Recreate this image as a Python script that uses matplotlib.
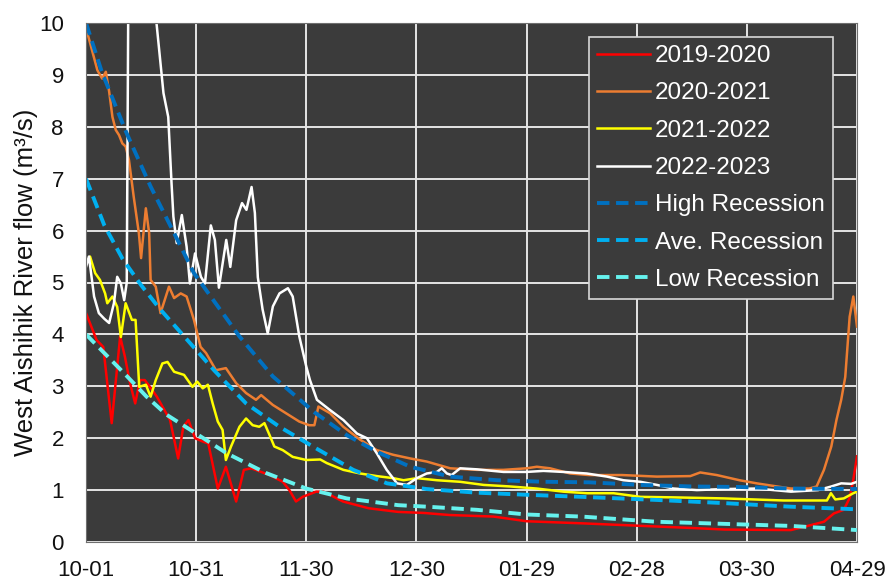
import matplotlib
matplotlib.use("Agg")
import matplotlib.pyplot as plt

plt.rcParams['font.family'] = ['Liberation Sans', 'DejaVu Sans']

# Day offsets from 1 October and flows (m3/s) for each season
tick_days = [0, 30, 60, 90, 120, 150, 180, 210]
tick_labels = ["10-01", "10-31", "11-30", "12-30", "01-29", "02-28", "03-30", "04-29"]

days_1920 = [0, 2.9, 4.7, 7, 9.3, 10.6, 12, 13.4, 14.7, 16, 17.4, 19.3, 22.9, 25.1, 26.5,
             27.9, 29.7, 32, 33.3, 35.9, 38.1, 40.9, 43, 45, 50, 53.6, 55.4, 57.2, 59,
             62.7, 64.7, 70, 77, 85, 92, 99, 111, 120, 135, 145, 155, 165, 174, 192,
             196, 201, 203.7, 206.4, 208, 209, 210]
flow_1920 = [4.41, 3.89, 3.76, 2.29, 3.96, 3.57, 3.06, 2.67, 3.12, 3.12, 2.99, 2.80, 2.35,
             1.61, 2.22, 2.35, 2.00, 1.93, 1.90, 1.03, 1.45, 0.78, 1.39, 1.42, 1.29, 1.16,
             1.00, 0.78, 0.87, 0.97, 0.97, 0.78, 0.65, 0.58, 0.56, 0.52, 0.49, 0.40, 0.36,
             0.33, 0.30, 0.27, 0.24, 0.23, 0.30, 0.39, 0.55, 0.62, 0.85, 1.20, 1.65]

days_2021 = [0, 0.4, 3.1, 4.4, 5.4, 6.3, 7.2, 8.1, 9, 9.9, 10.8, 11.7, 13, 14.4, 15, 16.3,
             17.2, 17.6, 19, 20.3, 22.6, 24, 25.8, 27.4, 29.4, 31.2, 32.7, 35.4, 38.1,
             40.9, 43.6, 46.3, 47.7, 50.9, 54.5, 58.1, 60.8, 62.2, 63.3, 66.5, 70.1, 74.7,
             79.2, 83.7, 88.3, 92.8, 99.2, 106.5, 113.7, 120, 122.8, 126.4, 131.9, 137,
             146, 155.5, 164.6, 167.3, 171.8, 178, 182.7, 188.2, 192, 197, 199, 201, 203,
             204.4, 205.7, 206.8, 208, 209, 210]
flow_2021 = [10.0, 9.8, 9.09, 8.93, 9.06, 8.68, 8.19, 7.94, 7.84, 7.68, 7.62, 7.36, 6.65,
             5.95, 5.47, 6.43, 5.95, 5.05, 4.92, 4.41, 4.92, 4.70, 4.79, 4.73, 4.28, 3.76,
             3.64, 3.31, 3.35, 3.06, 2.87, 2.74, 2.83, 2.64, 2.48, 2.32, 2.25, 2.25, 2.61,
             2.48, 2.22, 1.97, 1.77, 1.68, 1.61, 1.55, 1.42, 1.39, 1.39, 1.42, 1.45, 1.42,
             1.32, 1.29, 1.29, 1.26, 1.27, 1.34, 1.29, 1.19, 1.13, 1.07, 1.03, 1.03, 1.07,
             1.39, 1.84, 2.35, 2.74, 3.18, 4.34, 4.73, 4.15]

days_2122 = [0, 1.1, 2.5, 3.8, 5.2, 5.8, 7.2, 8.5, 9.5, 10.8, 12.5, 13.5, 14.5, 16.3, 17.6,
             19, 20.8, 22.2, 24, 26.7, 29, 30.3, 31.8, 33.2, 34.5, 35.9, 37.2, 38.1, 39.5,
             41.8, 43.6, 45.4, 47.2, 48.6, 50, 51.3, 53.6, 56.3, 60, 63.8, 65.6, 70.1,
             74.7, 79.2, 83.7, 86.5, 90.1, 95.6, 101.9, 108.3, 115.5, 122.8, 130, 136.4,
             143.7, 151, 160, 173.7, 190, 201.8, 202.9, 204.1, 206.4, 209, 210]
flow_2122 = [5.37, 5.50, 5.18, 5.05, 4.79, 4.60, 4.73, 4.53, 3.95, 4.60, 4.28, 4.28, 2.99,
             3.03, 2.80, 3.12, 3.44, 3.47, 3.28, 3.22, 2.99, 3.09, 2.96, 3.03, 2.67, 2.32,
             2.16, 1.58, 1.84, 2.22, 2.38, 2.25, 2.22, 2.29, 2.06, 1.84, 1.77, 1.64, 1.58,
             1.59, 1.52, 1.39, 1.32, 1.27, 1.23, 1.19, 1.23, 1.19, 1.16, 1.10, 1.07, 1.03,
             0.97, 0.94, 0.94, 0.87, 0.86, 0.84, 0.80, 0.80, 0.94, 0.82, 0.84, 0.94, 0.97]

days_2223 = [0, 0.8, 2.2, 3.5, 5, 6.3, 7.6, 8.5, 9.5, 10.4, 11.1, 11.6, 13, 15, 17, 18.5,
             19.2, 21.1, 22.4, 23.3, 23.8, 24.7, 26.1, 27.4, 28.3, 29.7, 31.3, 32.4, 34,
             35.1, 36.2, 38.2, 39.3, 40.9, 42.5, 43.7, 45.1, 46, 46.8, 48.1, 49.5, 50.9,
             52.7, 55, 56.3, 58.1, 60, 61, 62.9, 66.5, 70.1, 73.8, 76.5, 79.2, 81.9, 84.7,
             87.4, 90.1, 92.8, 95.6, 96.9, 98.3, 99.6, 101.9, 106.5, 113.7, 120, 124.6,
             130, 136.4, 141.9, 146.4, 151, 155.5, 160, 166.4, 173.7, 182.7, 192, 199.4,
             203, 205.7, 208.4, 210]
flow_2223 = [5.30, 5.50, 4.73, 4.41, 4.30, 4.22, 4.60, 5.11, 4.98, 4.66, 5.00, 11.5, 13.0,
             14.0, 12.5, 11.0, 10.0, 8.65, 8.19, 6.91, 6.27, 5.76, 6.30, 5.69, 4.98, 5.56,
             5.11, 4.98, 6.10, 5.82, 4.90, 5.82, 5.30, 6.20, 6.53, 6.40, 6.84, 6.34, 5.10,
             4.48, 4.02, 4.54, 4.79, 4.89, 4.73, 3.96, 3.38, 3.12, 2.74, 2.54, 2.35, 2.09,
             2.00, 1.71, 1.39, 1.13, 1.10, 1.23, 1.32, 1.35, 1.42, 1.32, 1.29, 1.42, 1.40,
             1.35, 1.35, 1.37, 1.35, 1.32, 1.26, 1.19, 1.16, 1.10, 1.03, 1.00, 1.02, 1.03,
             0.97, 1.00, 1.07, 1.13, 1.12, 1.16]

# Recession curves
days_high = [0, 4.3, 11.1, 17.6, 24, 29.4, 41.8, 50.9, 62.2, 71, 79.2, 88.3, 99.2, 112,
             125, 137, 151, 165, 178, 192, 210]
flow_high = [10.0, 9.06, 7.87, 6.85, 5.95, 5.18, 3.96, 3.19, 2.50, 2.06, 1.74, 1.45, 1.26,
             1.19, 1.16, 1.15, 1.10, 1.07, 1.06, 1.03, 1.02]

days_ave = [0, 5, 10, 15, 20, 25, 30, 35, 43.6, 52.7, 61.8, 72.8, 82, 92.8, 106.5, 120,
            135, 155.5, 173.6, 192, 210]
flow_ave = [7.0, 6.1, 5.45, 4.95, 4.5, 4.1, 3.7, 3.3, 2.67, 2.22, 1.84, 1.39, 1.13, 1.02,
            0.95, 0.91, 0.87, 0.81, 0.75, 0.68, 0.63]

days_low = [0, 10.4, 16.5, 22, 30, 38.3, 49, 60, 71, 85, 93, 106.5, 120, 135, 155.5,
            173.6, 192, 210]
flow_low = [4.0, 3.25, 2.80, 2.45, 2.09, 1.71, 1.33, 1.03, 0.84, 0.71, 0.68, 0.62, 0.53,
            0.49, 0.39, 0.35, 0.31, 0.23]

W, H = 892, 581
fig = plt.figure(figsize=(W / 100, H / 100), dpi=100)
ax = fig.add_axes([86 / W, 39 / H, 771 / W, 519 / H])
bg = '#3b3b3b'
ax.set_facecolor(bg)

solid_lw = 1.8
ax.plot(days_1920, flow_1920, color='#ff0000', lw=solid_lw, label='2019-2020')
ax.plot(days_2021, flow_2021, color='#ed7d31', lw=solid_lw, label='2020-2021')
ax.plot(days_2122, flow_2122, color='#ffff00', lw=solid_lw, label='2021-2022')
ax.plot(days_2223, flow_2223, color='#ffffff', lw=solid_lw, label='2022-2023')

dash_lw = 2.8
dash = (3.2, 1.7)
ax.plot(days_high, flow_high, color='#0070c0', lw=dash_lw, dashes=dash, label='High Recession')
ax.plot(days_ave, flow_ave, color='#00b0f0', lw=dash_lw, dashes=dash, label='Ave. Recession')
ax.plot(days_low, flow_low, color='#66f2ee', lw=dash_lw, dashes=dash, label='Low Recession')

ax.set_xlim(0, 210)
ax.set_ylim(0, 10)
ax.set_xticks(tick_days)
ax.set_xticklabels(tick_labels)
ax.set_yticks(range(0, 11))
ax.tick_params(axis='both', length=0, labelsize=16, colors='#111111')
ax.tick_params(axis='x', pad=13)
ax.tick_params(axis='y', pad=16)
ax.grid(True, color='#e4e4e4', lw=1.4)
ax.set_axisbelow(True)
for s in ax.spines.values():
    s.set_color('#6f6f6f')
    s.set_linewidth(0.8)

ax.set_ylabel('West Aishihik River flow (m³/s)', fontsize=18.5, color='#111111')
ax.yaxis.set_label_coords(-48 / 771, 0.5)

leg = ax.legend(loc='upper right', bbox_to_anchor=((833 - 86) / 771, (542 - 37) / 519),
                borderaxespad=0, fontsize=17.5, frameon=True, fancybox=False,
                handlelength=2.2, handletextpad=0.2, labelspacing=0.63,
                borderpad=0.33)
frame = leg.get_frame()
frame.set_facecolor(bg)
frame.set_edgecolor('#d8d8d8')
frame.set_linewidth(1.2)
frame.set_alpha(1)
for t in leg.get_texts():
    t.set_color('white')

fig.savefig('out.png', dpi=100)
